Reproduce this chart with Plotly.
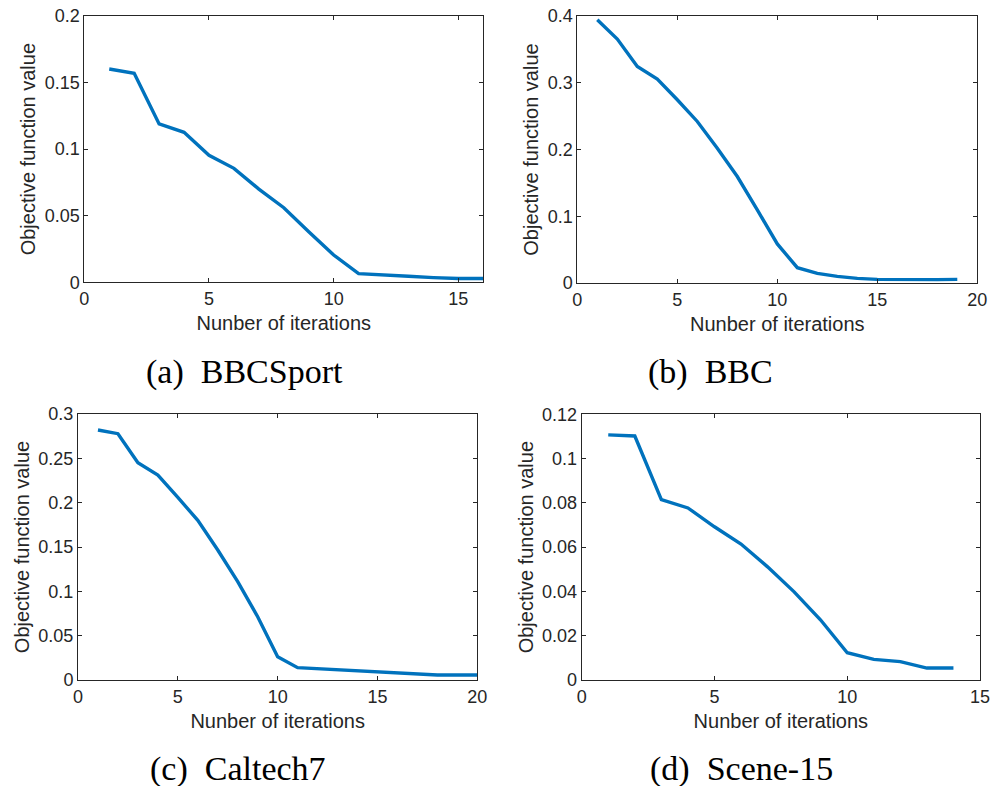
import plotly.graph_objects as go

W, H = 1005, 786

# ---- data ----
iters_a = list(range(1, 17))
obj_a = [0.1602, 0.157, 0.1189, 0.1126, 0.0954, 0.0856, 0.070, 0.056, 0.038, 0.0205,
         0.0065, 0.0058, 0.0045, 0.0035, 0.0028, 0.0028]

iters_b = list(range(1, 20))
obj_b = [0.3945, 0.3655, 0.3245, 0.3055, 0.2745, 0.242, 0.202, 0.1595, 0.1095, 0.0585,
         0.023, 0.0145, 0.010, 0.007, 0.0055, 0.005, 0.005, 0.005, 0.0055]

iters_c = list(range(1, 21))
obj_c = [0.282, 0.2778, 0.245, 0.231, 0.206, 0.180, 0.1466, 0.111, 0.0714, 0.0263,
         0.0139, 0.0128, 0.0113, 0.0102, 0.0094, 0.0086, 0.0071, 0.0056, 0.0056, 0.0056]

iters_d = list(range(1, 15))
obj_d = [0.1107, 0.1102, 0.0815, 0.0777, 0.0692, 0.0614, 0.0511, 0.0398, 0.0271, 0.0123,
         0.0093, 0.0083, 0.0054, 0.0054]

captions = ["(a)  BBCSport", "(b)  BBC", "(c)  Caltech7", "(d)  Scene-15"]
x_ranges = [[0, 16], [0, 20], [0, 20], [0, 15]]
y_ranges = [[0, 0.2], [0, 0.4], [0, 0.3], [0, 0.12]]
y_dticks = [0.05, 0.1, 0.05, 0.02]
x_title = "Nunber of iterations"
y_title = "Objective function value"

# ---- layout (page pixel boxes: left, right, top, bottom) ----
boxes = [(84.3, 483.3, 16, 282.3), (577.3, 977.3, 16, 283),
         (78, 477.3, 414, 680), (581.7, 980, 414.3, 680)]
cap_pos = [(144, 372), (646, 372), (148, 769), (648, 769)]

series = [(iters_a, obj_a), (iters_b, obj_b), (iters_c, obj_c), (iters_d, obj_d)]


def fx(px):
    return px / W


def fy(py):
    return 1 - py / H


fig = go.Figure()
axcol = "#262626"
font_tick = dict(family="Liberation Sans, Arial", size=18, color=axcol)
font_title = dict(family="Liberation Sans, Arial", size=20, color=axcol)

for i, ((xs, ys), (l, r, t, b)) in enumerate(zip(series, boxes)):
    n = "" if i == 0 else str(i + 1)
    fig.add_trace(go.Scatter(x=xs, y=ys, mode="lines",
                             line=dict(color="#0072BD", width=3.4),
                             xaxis="x" + n, yaxis="y" + n, showlegend=False))
    common = dict(showline=True, linecolor=axcol, linewidth=1, mirror="ticks",
                  ticks="inside", ticklen=4, tickcolor=axcol, showgrid=False,
                  zeroline=False, tickfont=font_tick, automargin=False,
                  ticklabeloverflow="allow")
    fig.layout["xaxis" + n] = dict(
        domain=[fx(l), fx(r)], anchor="y" + n, range=x_ranges[i], dtick=5, tick0=0,
        title=dict(text=x_title, font=font_title, standoff=8),
        **common)
    fig.layout["yaxis" + n] = dict(
        domain=[fy(b), fy(t)], anchor="x" + n, range=y_ranges[i],
        dtick=y_dticks[i], tick0=0,
        title=dict(text=y_title, font=font_title, standoff=3),
        **common)
    cx, cy = cap_pos[i]
    fig.add_annotation(text=captions[i], x=fx(cx), y=fy(cy), xref="paper", yref="paper",
                       xanchor="left", yanchor="middle", showarrow=False,
                       font=dict(family="Liberation Serif, Times New Roman", size=34, color="black"))

fig.update_layout(width=W, height=H, margin=dict(l=0, r=0, t=0, b=0),
                  paper_bgcolor="white", plot_bgcolor="white")

fig.write_html("out.html", config={"displayModeBar": False},
               post_script="document.body.style.margin='0';document.body.style.overflow='hidden';")
